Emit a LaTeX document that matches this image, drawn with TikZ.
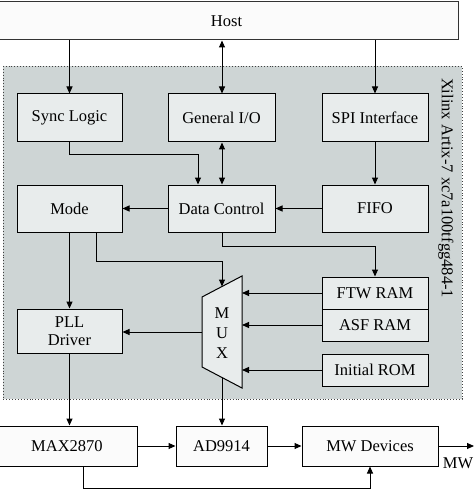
\documentclass[tikz,border=0pt]{standalone}
\usepackage{fontspec}
\setmainfont{Liberation Serif}
\usetikzlibrary{arrows.meta}
\definecolor{regionfill}{RGB}{206,213,213}
\definecolor{innerfill}{RGB}{232,236,236}
\definecolor{outerfill}{RGB}{251,251,251}
\begin{document}
\begin{tikzpicture}[x=1pt,y=-1pt,
  font=\fontsize{16.5}{19}\selectfont,
  >={Triangle[length=7pt,width=6pt]},
  line width=1pt,
  inner/.style={draw=black, fill=innerfill, inner sep=0pt, align=center},
  outer/.style={draw=black, fill=outerfill, inner sep=0pt, align=center},
  conn/.style={->}]
\useasboundingbox (0,0) rectangle (474,489);
% FPGA region
\draw[fill=regionfill, draw=black!75, dotted, line width=0.9pt] (3,66) rectangle (462,399);
\node[rotate=-90, anchor=center] (chip) at (446,188) {Xilinx Artix-7 xc7a100tfgg484-1};
% outer boxes
\node[outer, draw=black!80, minimum width=463pt, minimum height=38pt] (host) at (226.5,21) {Host};
\node[outer, minimum width=140pt, minimum height=40pt] (max) at (67,446) {MAX2870};
\node[outer, minimum width=91pt, minimum height=40pt] (ad) at (221.5,446) {AD9914};
\node[outer, minimum width=136pt, minimum height=40pt] (mwd) at (370,446) {MW Devices};
% inner boxes
\node[inner, minimum width=105pt, minimum height=48pt] (sync) at (69.5,118) {Sync Logic};
\node[inner, minimum width=107pt, minimum height=48pt] (gio) at (221.5,118) {General I/O};
\node[inner, minimum width=106pt, minimum height=48pt] (spi) at (375,118) {SPI Interface};
\node[inner, minimum width=105pt, minimum height=47pt] (mode) at (69.5,208.5) {Mode};
\node[inner, minimum width=107pt, minimum height=47pt] (dc) at (221.5,208.5) {Data Control};
\node[inner, minimum width=106pt, minimum height=47pt] (fifo) at (375,208.5) {FIFO};
\node[inner, minimum width=106pt, minimum height=32pt] (ftw) at (375,293) {FTW RAM};
\node[inner, minimum width=106pt, minimum height=32pt] (asf) at (375,325) {ASF RAM};
\node[inner, minimum width=106pt, minimum height=32pt] (rom) at (375,370) {Initial ROM};
\node[inner, minimum width=105pt, minimum height=44pt, font=\fontsize{16.5}{18}\selectfont] (pll) at (69.5,331) {PLL\\Driver};
% MUX
\coordinate (m1) at (202,297);
\coordinate (m2) at (242,276);
\coordinate (m3) at (242,388);
\coordinate (m4) at (202,367);
\draw[fill=innerfill] (m1) -- (m2) -- (m3) -- (m4) -- cycle;
\node[align=center, font=\fontsize{16.5}{20}\selectfont] (mux) at (222,333) {M\\U\\X};
\coordinate (muxtop) at (222,286.5);
\coordinate (muxbot) at (222,377.5);
\coordinate (muxleft) at (202,332);
\coordinate (muxright) at (242,332);
% connectors
\draw[conn] (host.south -| sync.north) -- (sync.north);
\draw[<->] (host.south -| 222,0) -- (gio.north -| 222,0);
\draw[conn] (host.south -| spi.north) -- (spi.north);
\draw[conn] (sync.south) -- (69.5,155) -- (198,155) -- (dc.north -| 198,0);
\draw[<->] (gio.south -| 222,0) -- (dc.north -| 222,0);
\draw[conn] (spi.south) -- (fifo.north);
\draw[conn] (fifo.west) -- (dc.east);
\draw[conn] (dc.west) -- (mode.east);
\draw[conn] (dc.south -| 222,0) -- (222,246) -- (375,246) -- (ftw.north);
\draw[conn] (mode.south) -- (pll.north);
\draw[conn] (mode.south -| 96,0) -- (96,261) -- (222,261) -- (muxtop);
\draw[conn] (ftw.west) -- (ftw.west -| muxright);
\draw[conn] (asf.west) -- (asf.west -| muxright);
\draw[conn] (rom.west) -- (rom.west -| muxright);
\draw[conn] (muxleft) -- (muxleft -| pll.east);
\draw[conn] (muxbot) -- (ad.north -| muxbot);
\draw[conn] (pll.south) -- (max.north -| pll.south);
\draw[conn] (max.east) -- (ad.west);
\draw[conn] (ad.east) -- (mwd.west);
\coordinate (mwout) at (474,446);
\draw[conn] (mwd.east) -- (mwout);
\node (mwlabel) at (458,463) {MW};
\draw[conn] (max.south -| 83,0) -- (83,488.3) -- (370,488.3) -- (mwd.south -| 370,0);
\end{tikzpicture}
\end{document}
